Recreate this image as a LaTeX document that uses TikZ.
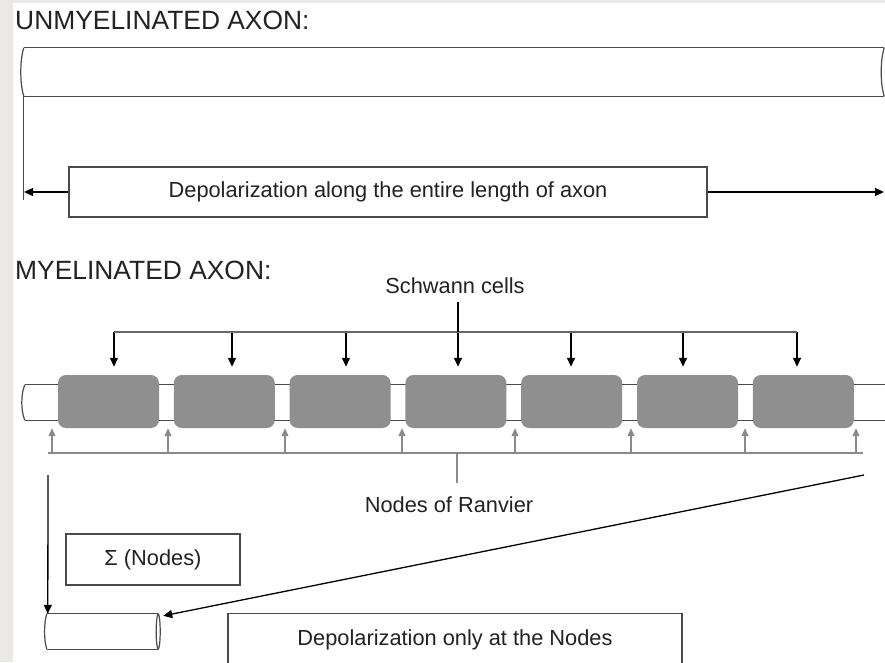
\documentclass[tikz,border=0pt]{standalone}
\usepackage{fontspec}
\setmainfont{Liberation Sans}
\usetikzlibrary{arrows.meta, positioning}
\definecolor{myelin}{HTML}{8F8F8F}
\definecolor{tubeline}{HTML}{4A4A4A}
\definecolor{nodegray}{HTML}{8A8A8A}
\definecolor{margin}{HTML}{EBE9E5}
\definecolor{inktext}{HTML}{222222}

\begin{document}
\begin{tikzpicture}[x=1pt, y=-1pt, font=\fontsize{21.8}{24}\selectfont, text=inktext,
  labelbox/.style={draw=tubeline, line width=1.2pt, minimum height=50pt, inner sep=0pt},
  sheath/.style={fill=myelin, rounded corners=8pt, minimum width=101pt, minimum height=53pt, inner sep=0pt},
  tube/.style={draw=tubeline, line width=1.2pt},
  heading/.style={anchor=base west, inner sep=0pt, font=\fontsize{26.4}{28}\selectfont},
  celltip/.style={-{Triangle[length=9pt,width=8pt]}, line width=1.3pt},
  gaptip/.style={nodegray, -{Triangle[length=8pt,width=7pt]}, line width=1.3pt}]

\clip (0,0) rectangle (885,662);
% page margins
\fill[margin] (0,0) rectangle (885,662);
\fill[white] (13,3) rectangle (885,662);

% Unmyelinated axon
\node[heading] (titleU) at (15,29) {UNMYELINATED AXON:};
\node[minimum width=860pt, minimum height=48pt, inner sep=0pt] (axonU) at (454,72) {};
\draw[tube] (axonU.north west) -- (axonU.north east);
\draw[tube] (axonU.south west) -- (axonU.south east);
\draw[tube] (axonU.north west) .. controls +(-4,12) and +(-4,-12) .. (axonU.south west);
\draw[tube] (axonU.north east) .. controls +(-4,12) and +(-4,-12) .. (axonU.south east);
\draw[tube] (axonU.south west) -- ++(0,104);
\coordinate (uarrL) at (24,192);
\coordinate (uarrR) at (884,192);
\node[labelbox, minimum width=638pt] (depolU) at (388,192) {Depolarization along the entire length of axon};
\draw[celltip] (depolU.west) -- (uarrL);
\draw[celltip] (depolU.east) -- (uarrR);

% Myelinated axon
\node[heading] (titleM) at (15,279) {MYELINATED AXON:};
\node[minimum width=860pt, minimum height=35pt, inner sep=0pt] (axonM) at (455,402.5) {};
\draw[tube] (axonM.north west) -- (axonM.north east);
\draw[tube] (axonM.south west) -- (axonM.south east);
\draw[tube] (axonM.north west) .. controls +(-4,9) and +(-4,-9) .. (axonM.south west);
\foreach \i in {1,...,7}
  \node[sheath] (sc\i) at ({108.5+115.8*(\i-1)},401.5) {};

% Schwann cells
\node[anchor=base] (schwann) at (455,293) {Schwann cells};
\foreach \i/\ax in {1/114,2/232,3/346,4/458,5/571,6/683,7/797}{
  \coordinate (sbar\i) at (\ax,332);
  \draw[celltip] (sbar\i) -- ([yshift=8pt]sbar\i |- sc\i.north);
}
\draw[line width=1.2pt, draw=black!60] (sbar1) -- (sbar7);
\draw[line width=1.3pt] ([xshift=3pt,yshift=-5pt]schwann.south) -- (sbar4);

% Nodes of Ranvier
\coordinate (rbarL) at (48,453);
\coordinate (rbarR) at (863,453);
\draw[nodegray, line width=1.2pt] (rbarL) -- (rbarR);
\foreach \i/\nx in {1/52,2/168,3/285,4/402,5/515,6/631,7/745,8/856}{
  \coordinate (rbar\i) at (\nx,453);
  \draw[gaptip] (rbar\i) -- ([yshift=-8pt]rbar\i |- axonM.south);
}
\node[anchor=base] (ranvier) at (449,512) {Nodes of Ranvier};
\draw[nodegray, line width=1.2pt] ([xshift=8pt,yshift=10pt]ranvier.north) -- ([xshift=8pt]ranvier.north |- rbarL);

% summation
\node[labelbox, minimum width=174pt, minimum height=51pt] (sumbox) at (153,559.5) {Σ (Nodes)};
\node[minimum width=113pt, minimum height=35pt, inner sep=0pt] (minitube) at (103.5,631.5) {};
\draw[tube] (minitube.north west) -- ([xshift=-2pt]minitube.north east);
\draw[tube] (minitube.south west) -- ([xshift=-2pt]minitube.south east);
\draw[tube] (minitube.north west) .. controls +(-3,9) and +(-3,-9) .. (minitube.south west);
\draw[tube] ([xshift=-2pt]minitube.east) ellipse [x radius=2, y radius=17.5];
\coordinate (sumtop) at (48,475);
\coordinate (diagtop) at (864,475);
\draw[celltip] (sumtop) -- ([xshift=1pt]minitube.north west);
\draw[celltip] (diagtop) -- ([xshift=3pt,yshift=-2pt]minitube.north east);

\node[labelbox, minimum width=454pt, minimum height=70pt, anchor=north,
  text height=16pt, text depth=22pt] (depolM) at (455,613) {Depolarization only at the Nodes};

\end{tikzpicture}
\end{document}
